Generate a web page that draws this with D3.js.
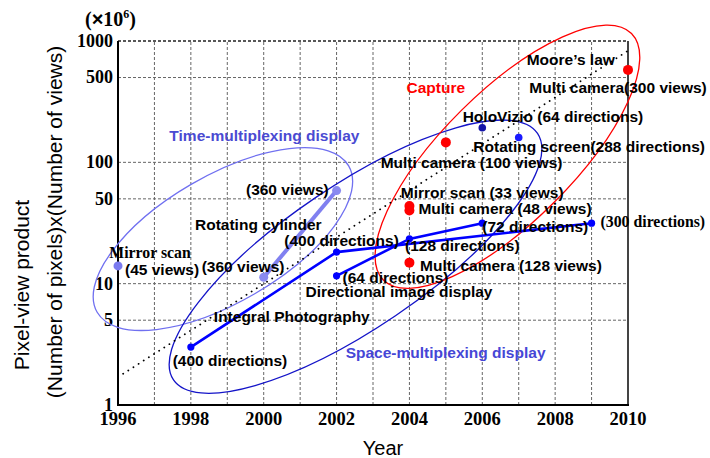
<!DOCTYPE html>
<html>
<head>
<meta charset="utf-8">
<script src="https://d3js.org/d3.v7.min.js"></script>
<style>
  body { margin: 0; background: #fff; }
  .tick { font-family: "Liberation Serif", "Times New Roman", serif; font-weight: bold; font-size: 18px; fill: #000; }
  .lbl { font-family: "Liberation Sans", Arial, sans-serif; font-weight: bold; font-size: 15.5px; }
  .serif { font-family: "Liberation Serif", "Times New Roman", serif; font-weight: bold; font-size: 15.8px; }
  .title { font-family: "Liberation Sans", Arial, sans-serif; font-size: 21px; fill: #000; }
</style>
</head>
<body>
<div id="chart"></div>
<script>
// axes
var years = d3.range(1996, 2011);
var yearLabels = [1996, 1998, 2000, 2002, 2004, 2006, 2008, 2010];
var yTicks = [1, 5, 10, 50, 100, 500, 1000];

// time-multiplexing displays
var mirrorScan = [{ year: 1996, v: 14 }];
var rotatingCylinder = [{ year: 2000, v: 11.3 }, { year: 2002, v: 58.5 }];

// space-multiplexing displays
var integralPhoto = [{ year: 1998, v: 3.0 }, { year: 2002, v: 18.2 }, { year: 2009, v: 31.5 }];
var directionalImage = [{ year: 2002, v: 11.6 }, { year: 2004, v: 23.4 }, { year: 2006, v: 31.5 }];
var holoVizio = [{ year: 2006, v: 193 }];
var rotatingScreen = [{ year: 2007, v: 160 }];

// capture
var capture = [
  { year: 2010, v: 578 },
  { year: 2005, v: 146 },
  { year: 2004, v: 43.7 },
  { year: 2004, v: 40.1 },
  { year: 2004, v: 14.9 }
];

// Moore's law trend
var moore = [{ year: 1996, v: 1.7 }, { year: 2010, v: 830 }];

// labels: text, anchor point (year, value)
var labels = [
  ["Mirror scan", 1996, 14, "serif"],
  ["(45 views)", 1996, 14],
  ["(360 views)", 2000, 11.3],
  ["Rotating cylinder", 2000, 11.3],
  ["(360 views)", 2002, 58.5],
  ["(400 directions)", 2002, 18.2],
  ["(64 directions)", 2002, 11.6],
  ["Directional image display", 2002, 11.6],
  ["Integral Photography", 1998, 3.0],
  ["(400 directions)", 1998, 3.0],
  ["(128 directions)", 2004, 23.4],
  ["(72 directions)", 2006, 31.5],
  ["(300 directions)", 2009, 31.5, "serif"],
  ["Multi camera (128 views)", 2004, 14.9],
  ["Multi camera (48 views)", 2004, 40.1],
  ["Mirror scan (33 views)", 2004, 43.7],
  ["Multi camera (100 views)", 2005, 146],
  ["Rotating screen(288 directions)", 2007, 160],
  ["HoloVizio (64 directions)", 2006, 193],
  ["Multi camera(300 views)", 2010, 578],
  ["Moore\u2019s law", 2010, 830]
];
var labelOffsets = [
  [-8.7, -8.3], [7, 9], [-62, -5.6], [-68.7, -47.3], [-90.6, 4.3],
  [-52.3, -6.2], [6, 7.3], [-31, 20.7], [23, -24.8], [-18.2, 18.6],
  [-4.4, 12.1], [0, 8.4], [9, 4], [10.6, 8], [9, 3.5],
  [-8.7, -7.7], [-65.2, 25.9], [-45.4, 14.2], [-19.6, -6.1], [-98.7, 23.3],
  [-101.3, 13.7]
];

// group titles and enclosing ellipses (centre in data units)
var groups = [
  { name: "Time-multiplexing display", year: 1997.41, v: 150.7, color: "#4a4ad2",
    cy: 1998.88, cv: 23.3, rx: 145.5, ry: 63.3, rot: -30.2, stroke: "#7070f0" },
  { name: "Space-multiplexing display", year: 2002.25, v: 2.43, color: "#4646d6",
    cy: 2002.52, cv: 16.7, rx: 219.8, ry: 71.3, rot: -34.1, stroke: "#1414c8" },
  { name: "Capture", year: 2003.92, v: 370.7, color: "#ff0000",
    cy: 2006.69, cv: 111.3, rx: 174.9, ry: 65.3, rot: -44.8, stroke: "#ff0000" }
];

var width = 710, height = 458;
var svg = d3.select("#chart").append("svg")
  .attr("width", width)
  .attr("height", height);

var x = d3.scaleLinear().domain([1996, 2010]).range([118, 628]);
var y = d3.scaleLog().domain([1, 1000]).range([405, 41]);

// grid
svg.append("g").selectAll("line")
  .data(years.slice(1, -1))
  .enter().append("line")
  .attr("x1", d => x(d)).attr("x2", d => x(d))
  .attr("y1", y(1)).attr("y2", y(1000))
  .attr("stroke", "#666").attr("stroke-width", 1).attr("stroke-dasharray", "3,2");

svg.append("g").selectAll("line")
  .data(yTicks.slice(1, -1))
  .enter().append("line")
  .attr("x1", x(1996)).attr("x2", x(2010))
  .attr("y1", d => y(d)).attr("y2", d => y(d))
  .attr("stroke", "#666").attr("stroke-width", 1).attr("stroke-dasharray", "3,2");

// frame
svg.append("line").attr("x1", x(1996)).attr("x2", x(2010)).attr("y1", y(1000)).attr("y2", y(1000))
  .attr("stroke", "#222").attr("stroke-width", 1.6).attr("stroke-dasharray", "3,2");
svg.append("line").attr("x1", x(2010)).attr("x2", x(2010)).attr("y1", y(1000)).attr("y2", y(1))
  .attr("stroke", "#444").attr("stroke-width", 2);
svg.append("line").attr("x1", x(1996)).attr("x2", x(1996)).attr("y1", y(1000)).attr("y2", y(1) + 1)
  .attr("stroke", "#000").attr("stroke-width", 2);
svg.append("line").attr("x1", x(1996) - 1).attr("x2", x(2010) + 1).attr("y1", y(1)).attr("y2", y(1))
  .attr("stroke", "#000").attr("stroke-width", 2);

// tick labels
svg.append("g").selectAll("text")
  .data(yTicks)
  .enter().append("text")
  .attr("class", "tick")
  .attr("x", 113).attr("y", d => y(d))
  .attr("dy", "0.33em")
  .attr("text-anchor", "end")
  .text(d => d);

svg.append("g").selectAll("text")
  .data(yearLabels)
  .enter().append("text")
  .attr("class", "tick")
  .attr("font-size", 18.5)
  .style("font-size", "18.5px")
  .attr("x", d => x(d)).attr("y", 425)
  .attr("text-anchor", "middle")
  .text(d => d);

var unit = svg.append("text").attr("class", "tick").style("font-size", "20px").attr("x", 85).attr("y", 26);
unit.append("tspan").text("(");
unit.append("tspan").attr("font-family", "Liberation Sans, Arial, sans-serif").text("\u00d7");
unit.append("tspan").text("10");
unit.append("tspan").attr("dy", -8).style("font-size", "12px").text("6");
unit.append("tspan").attr("dy", 8).text(")");

// axis titles
svg.append("text").attr("class", "title")
  .attr("x", 383).attr("y", 455).attr("text-anchor", "middle").style("font-size", "20px")
  .text("Year");
svg.append("text").attr("class", "title")
  .attr("transform", "translate(29,285) rotate(-90)")
  .attr("text-anchor", "middle")
  .text("Pixel-view product");
svg.append("text").attr("class", "title")
  .attr("transform", "translate(62,222) rotate(-90)")
  .attr("text-anchor", "middle")
  .text("(Number of pixels)x(Number of views)");

// ellipses
svg.append("g").selectAll("ellipse")
  .data(groups)
  .enter().append("ellipse")
  .attr("cx", 0).attr("cy", 0)
  .attr("rx", d => d.rx).attr("ry", d => d.ry)
  .attr("transform", d => "translate(" + x(d.cy) + "," + y(d.cv) + ") rotate(" + d.rot + ")")
  .attr("fill", "none")
  .attr("stroke", d => d.stroke)
  .attr("stroke-width", 1.3);

// Moore's law
var line = d3.line().x(d => x(d.year)).y(d => y(d.v));
svg.append("path").datum(moore)
  .attr("d", line)
  .attr("fill", "none").attr("stroke", "#000")
  .attr("stroke-width", 1.8).attr("stroke-linecap", "round")
  .attr("stroke-dasharray", "0.1,6");

// lines
svg.append("path").datum(rotatingCylinder).attr("d", line)
  .attr("fill", "none").attr("stroke", "#8080f0").attr("stroke-width", 4);
[integralPhoto, directionalImage].forEach(function(s) {
  svg.append("path").datum(s).attr("d", line)
    .attr("fill", "none").attr("stroke", "#0000ff").attr("stroke-width", 2.6);
});

// points
function dots(data, r, color) {
  svg.append("g").selectAll("circle")
    .data(data)
    .enter().append("circle")
    .attr("cx", d => x(d.year)).attr("cy", d => y(d.v))
    .attr("r", r).attr("fill", color);
}
dots(mirrorScan, 4.5, "#7b7bf0");
dots(rotatingCylinder, 4.5, "#8a8af0");
dots(integralPhoto, 3.6, "#0000ff");
dots(directionalImage, 3.6, "#0000ff");
dots(holoVizio, 3.8, "#1414a8");
dots(rotatingScreen, 3.8, "#1a1aff");
dots(capture, 5, "#ff0000");

// group titles
svg.append("g").selectAll("text")
  .data(groups)
  .enter().append("text")
  .attr("class", "lbl")
  .attr("x", d => x(d.year)).attr("y", d => y(d.v))
  .attr("fill", d => d.color)
  .text(d => d.name);

// point labels
svg.append("g").selectAll("text")
  .data(labels)
  .enter().append("text")
  .attr("class", d => d[3] === "serif" ? "serif" : "lbl")
  .attr("x", (d, i) => x(d[1]) + labelOffsets[i][0])
  .attr("y", (d, i) => y(d[2]) + labelOffsets[i][1])
  .attr("fill", "#000")
  .text(d => d[0]);
</script>
</body>
</html>
